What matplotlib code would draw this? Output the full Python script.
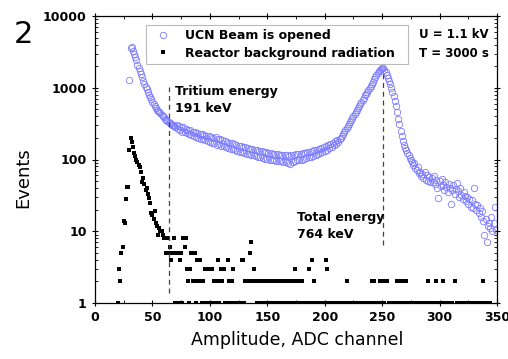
import numpy as np
import matplotlib
matplotlib.use('Agg')
import matplotlib.pyplot as plt
from matplotlib.ticker import MultipleLocator, LogLocator, NullFormatter

# UCN beam opened: one value per ADC channel, channels 30..349
ucn_ch = np.arange(30, 350)
ucn_val = [
    1280, 3550, 3650, 3300, 2950, 2650, 2400, 2100, 1900, 1700,   # 30-39
    1560, 1400, 1250, 1130, 1040, 950, 870, 800, 740, 690,         # 40-49
    640, 590, 555, 520, 495, 480, 460, 440, 420, 405,              # 50-59
    390, 370, 355, 345, 335, 320, 310, 300, 305, 290,              # 60-69
    285, 300, 265, 295, 255, 285, 245, 280, 240, 270,              # 70-79
    235, 260, 225, 255, 220, 245, 210, 240, 205, 232,              # 80-89
    200, 230, 195, 225, 190, 220, 185, 215, 180, 210,              # 90-99
    175, 205, 172, 200, 170, 203, 160, 195, 165, 190,              # 100-109
    155, 185, 152, 180, 148, 175, 145, 172, 140, 170,              # 110-119
    138, 165, 135, 160, 133, 155, 128, 152, 126, 150,              # 120-129
    124, 147, 121, 145, 118, 142, 116, 140, 114, 136,              # 130-139
    112, 134, 109, 132, 107, 130, 105, 128, 103, 126,              # 140-149
    102, 124, 100, 122, 99, 121, 97, 120, 96, 118,                 # 150-159
    95, 117, 94, 116, 92, 114, 91, 116, 88, 112,                   # 160-169
    86, 114, 93, 116, 95, 118, 97, 120, 98, 121,                   # 170-179
    100, 123, 102, 124, 104, 126, 107, 129, 109, 132,              # 180-189
    112, 134, 115, 137, 119, 141, 123, 145, 127, 150,              # 190-199
    131, 154, 137, 160, 143, 166, 149, 172, 157, 179,              # 200-209
    165, 186, 176, 194, 200, 215, 230, 245, 260, 275,              # 210-219
    295, 315, 335, 355, 380, 400, 430, 460, 490, 525,              # 220-229
    560, 600, 640, 680, 730, 780, 830, 880, 930, 990,              # 230-239
    1060, 1130, 1220, 1320, 1420, 1520, 1620, 1720, 1790, 1850,    # 240-249
    1880, 1860, 1780, 1650, 1500, 1380, 1260, 1130, 1000, 880,     # 250-259
    760, 650, 560, 460, 370, 310, 250, 210, 180, 160,              # 260-269
    145, 135, 125, 115, 105, 100, 92, 84, 88, 75,                  # 270-279
    72, 78, 65, 68, 58, 62, 55, 66, 52, 60,                        # 280-289
    50, 57, 48, 55, 49, 58, 45, 52, 40, 29,                        # 290-299
    50, 43, 54, 44, 38, 48, 42, 35, 45, 40,                        # 300-309
    24, 37, 44, 33, 39, 47, 36, 30, 40, 32,                        # 310-319
    28, 35, 31, 26, 30, 24, 28, 22, 27, 21,                        # 320-329
    40, 24, 20, 23, 18, 21, 16, 19, 14, 9,                         # 330-339
    15, 7, 12, 13, 11, 16, 10, 13, 22, 10.5,                       # 340-349
]

# reactor background radiation (channel, events)
bg_ch = [20, 21, 22, 23, 24, 25, 26, 27, 28, 29,
         30, 31, 32, 33, 34, 35, 36, 37, 38, 39,
         40, 41, 42, 43, 44, 45, 46, 47, 48, 49,
         50, 51, 52, 53, 54, 55, 56, 57, 58, 59,
         60, 61, 62, 63, 64, 65, 66, 67, 68, 69,
         70, 71, 72, 73, 74, 75, 76, 77, 78, 79,
         80, 81, 82, 83, 84, 85, 86, 87, 88, 89,
         90, 91, 92, 93, 94, 95, 96, 97, 98, 99,
         100, 101, 102, 103, 104, 105, 106, 107, 108, 109,
         110, 111, 112, 113, 114, 115, 116, 117, 118, 119,
         120, 121, 122, 124, 126, 127, 128, 129, 130, 131,
         132, 133, 134, 135, 136, 137, 138, 139, 140, 141,
         142, 143, 144, 145, 146, 147, 148, 149, 150, 151,
         152, 153, 154, 155, 156, 157, 158, 159, 160, 161,
         162, 163, 164, 165, 166, 167, 168, 169, 170, 171,
         172, 173, 174, 175, 176, 177, 178, 179, 180, 181,
         183, 185, 186, 187, 189, 190, 191, 192, 194, 196,
         198, 200, 201, 202, 204, 206, 208, 210, 212, 214,
         216, 218, 219, 220, 222, 224, 226, 228, 230, 232,
         234, 236, 238, 240, 241, 242, 243, 245, 247, 248,
         249, 251, 252, 254, 256, 258, 260, 262, 263, 264,
         266, 267, 268, 270, 271, 273, 275, 277, 279, 281,
         283, 285, 287, 289, 290, 292, 294, 296, 297, 299,
         301, 303, 305, 307, 309, 311, 313, 315, 317, 319,
         321, 323, 325, 327, 329, 331, 333, 335, 337, 338,
         340, 342, 344]
bg_val = [1, 3, 2, 5, 6, 14, 13, 28, 41, 41,
          135, 197, 174, 151, 122, 113, 100, 93, 85, 79,
          67, 49, 55, 46, 38, 40, 33, 29, 25, 18,
          17, 15, 19, 13, 12, 9, 11, 10, 10, 9,
          8, 8, 5, 8, 5, 6, 4, 5, 5, 8,
          1, 5, 1, 5, 4, 5, 1, 8, 6, 8,
          3, 2, 1, 3, 5, 2, 2, 5, 1, 4,
          2, 4, 2, 1, 2, 1, 3, 1, 3, 1,
          3, 1, 3, 1, 2, 1, 2, 4, 1, 2,
          3, 2, 3, 1, 1, 1, 4, 2, 1, 2,
          3, 1, 1, 1, 1, 1, 4, 4, 1, 2,
          2, 2, 2, 5, 7, 2, 3, 2, 2, 1,
          2, 1, 2, 1, 2, 2, 1, 2, 1, 2,
          1, 2, 2, 1, 2, 1, 2, 1, 2, 2,
          1, 2, 1, 2, 1, 2, 1, 2, 2, 1,
          2, 1, 3, 1, 2, 1, 2, 1, 2, 1,
          1, 1, 3, 1, 4, 1, 2, 1, 1, 1,
          1, 1, 4, 3, 1, 1, 1, 1, 1, 1,
          1, 1, 2, 1, 1, 1, 1, 1, 1, 1,
          1, 1, 1, 1, 2, 1, 2, 1, 1, 2,
          1, 2, 1, 2, 1, 1, 1, 1, 2, 1,
          2, 1, 2, 1, 2, 1, 1, 1, 1, 1,
          1, 1, 1, 1, 2, 1, 1, 1, 2, 1,
          1, 2, 1, 1, 1, 1, 2, 1, 1, 1,
          1, 1, 1, 1, 1, 1, 1, 1, 1, 2,
          1, 1, 1]

tritium_ch = 64.5
total_ch = 250.5

fig = plt.figure(figsize=(5.08, 3.59), dpi=100)
ax = fig.add_axes([95/508, 1-303/359, 402/508, 287/359])

ax.plot(ucn_ch, ucn_val, 'o', ls='none', mfc='none', mec='#7c7cff', ms=4.6, mew=0.6,
        label='UCN Beam is opened')
ax.plot(bg_ch, bg_val, 's', ls='none', color='black', ms=3.3, mew=0,
        label='Reactor background radiation  ')

ax.plot([tritium_ch, tritium_ch], [1.38, 1025], ls=(0, (4, 3)), color='#444444', lw=0.9)
ax.plot([total_ch, total_ch], [6.4, 1660], ls=(0, (4, 3)), color='#444444', lw=0.9)

ax.set_yscale('log')
ax.set_xlim(0, 350)
ax.set_ylim(1, 10000)
ax.xaxis.set_major_locator(MultipleLocator(50))
ax.xaxis.set_minor_locator(MultipleLocator(25))
ax.yaxis.set_minor_locator(LogLocator(base=10, subs=np.arange(2, 10)))
ax.yaxis.set_minor_formatter(NullFormatter())
ax.set_yticks([1, 10, 100, 1000, 10000])
ax.set_yticklabels(['1', '10', '100', '1000', '10000'])
ax.tick_params(which='major', direction='inout', length=5, width=0.8,
               top=True, right=True, labelsize=9)
ax.tick_params(which='minor', direction='in', length=2.5, width=0.6,
               top=True, right=True)
ax.tick_params(axis='x', pad=3)
for lab in ax.get_xticklabels() + ax.get_yticklabels():
    lab.set_fontweight('bold')
for sp in ax.spines.values():
    sp.set_linewidth(0.9)

leg = ax.legend(loc='upper left', bbox_to_anchor=(0.127, 0.969), borderaxespad=0,
                fancybox=False, edgecolor='#bbbbbb', framealpha=1,
                prop={'weight': 'bold', 'size': 9}, handlelength=2.0,
                handletextpad=0.75, borderpad=0.35, labelspacing=0.35, numpoints=1)
leg.get_frame().set_linewidth(0.8)

ax.text(0.805, 0.934, 'U = 1.1 kV', transform=ax.transAxes, fontsize=8.5,
        fontweight='bold', va='center', ha='left')
ax.text(0.805, 0.871, 'T = 3000 s', transform=ax.transAxes, fontsize=8.5,
        fontweight='bold', va='center', ha='left')
ax.text(70, 1080, 'Tritium energy\n191 keV', fontsize=9, fontweight='bold',
        va='top', ha='left', linespacing=1.4)
ax.text(176, 19, 'Total energy\n764 keV', fontsize=9, fontweight='bold',
        va='top', ha='left', linespacing=1.4)

fig.text(23/508, 1-34.5/359, '2', fontsize=22, ha='center', va='center')
fig.text(23.5/508, 1-178/359, 'Events', fontsize=13, rotation=90,
         ha='center', va='center')
fig.text(296.7/508, 1-340/359, 'Amplitude, ADC channel', fontsize=12.5,
         ha='center', va='center')

plt.savefig('out.png', dpi=100)
